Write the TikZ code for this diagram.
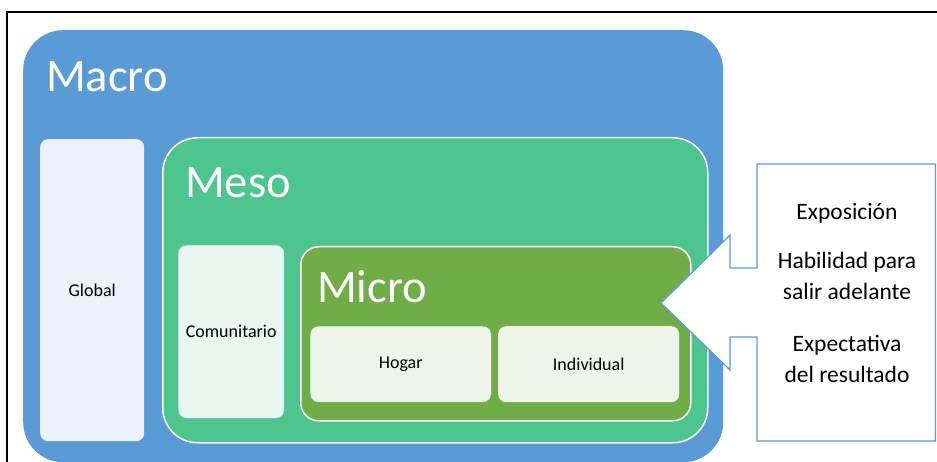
\documentclass[tikz,border=0pt]{standalone}
\usepackage{fontspec}
\setmainfont{Carlito}
\usetikzlibrary{positioning}
\definecolor{macroblue}{HTML}{5B9BD5}
\definecolor{mesogreen}{HTML}{4EC58E}
\definecolor{microgreen}{HTML}{70AD47}
\definecolor{globalfill}{HTML}{EDF2FA}
\definecolor{comfill}{HTML}{E9F7F0}
\definecolor{comline}{HTML}{6CCFB5}
\definecolor{hogarfill}{HTML}{EFF4EA}

\tikzset{
  level/.style={rectangle, inner sep=0pt, anchor=north west},
  box/.style={level, rounded corners=8pt, font=\fontsize{18}{21}\selectfont},
  title/.style={anchor=base west, inner sep=0pt, text=white, font=\fontsize{46.5}{46}\selectfont},
  factor/.style={anchor=base, inner sep=0pt, font=\fontsize{23.5}{27}\selectfont}
}

\begin{document}
\begin{tikzpicture}[x=1pt, y=-1pt]
    \useasboundingbox (0,0) rectangle (937,462);
    \draw[line width=2pt] (7,462) -- (7,12) -- (937,12);

    % levels
    \node[level, fill=macroblue, rounded corners=40pt, minimum width=700pt, minimum height=432pt] (macro) at (23,30) {};
    \node[title] (macrotitle) at (46,92) {Macro};
    \node[box, fill=globalfill, minimum width=104pt, minimum height=302pt] (global) at (40,139) {Global};

    \node[level, fill=mesogreen, draw=white, line width=1.5pt, rounded corners=35pt, minimum width=545pt, minimum height=305pt] (meso) at (162,137) {};
    \node[title] (mesotitle) at (185,198) {Meso};
    \node[box, fill=comfill, draw=comline, minimum width=106pt, minimum height=173pt] (comunitario) at (178,245) {Comunitario};

    \node[level, fill=microgreen, draw=white, line width=1.5pt, rounded corners=18pt, minimum width=390pt, minimum height=174pt] (micro) at (300,246) {};
    \node[title] (microtitle) at (317,303) {Micro};
    \node[box, fill=hogarfill, draw=mesogreen, minimum width=181pt, minimum height=76pt] (hogar) at (310,326) {Hogar};
    \node[box, fill=hogarfill, minimum width=181pt, minimum height=76pt] (individual) at (498,326) {Individual};

    % callout
    \draw[macroblue, line width=1.2pt, fill=white]
      (757,164) -- (935.5,164) -- (935.5,441) -- (757,441) -- (757,337) -- (730,337)
      -- (730,370) -- (661,303) -- (730,235) -- (730,268) -- (757,268) -- cycle;
    \node[factor] (exposicion) at (847,220) {Exposición};
    \node[factor] (habilidad) at (847,269) {Habilidad para};
    \node[factor] (salir) at (847,300) {salir adelante};
    \node[factor] (expectativa) at (847,352) {Expectativa};
    \node[factor] (resultado) at (847,382) {del resultado};
\end{tikzpicture}
\end{document}
